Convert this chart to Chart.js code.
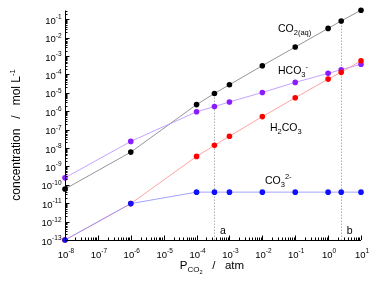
<!DOCTYPE html>
<html>
<head>
<meta charset="utf-8">
<script src="https://cdn.jsdelivr.net/npm/chart.js@4.4.1/dist/chart.umd.min.js"></script>
<style>
  html, body { margin: 0; padding: 0; background: #fff; }
  #wrap { width: 377px; height: 291px; position: relative; }
</style>
</head>
<body>
<div id="wrap"><canvas id="chart"></canvas></div>
<script>
// partial pressure of CO2 (atm)
const pressures = [1e-8, 1e-6, 1e-4, 3.5e-4, 1e-3, 1e-2, 1e-1, 1, 2.5, 10];

// concentrations (mol/L)
const co2aq = [5.9e-11, 6.0e-9, 2.3e-6, 9.3e-6, 2.75e-5, 3.0e-4, 3.1e-3, 3.2e-2, 8.1e-2, 0.31];
const hco3 = [2.4e-10, 2.3e-8, 9.3e-7, 1.8e-6, 3.2e-6, 1.05e-5, 3.7e-5, 1.15e-4, 1.8e-4, 3.6e-4];
const h2co3 = [1e-13, 9.5e-12, 3.5e-9, 1.4e-8, 4.4e-8, 5.1e-7, 5.4e-6, 5.6e-5, 1.3e-4, 5.6e-4];
const co3 = [1e-13, 9.5e-12, 4e-11, 4e-11, 4e-11, 4e-11, 4e-11, 4e-11, 4e-11, 4e-11];

// marked pressures (dotted lines)
const markerNames = ['a', 'b'];
const markerP = [3.5e-4, 2.5];

// tick exponents
const xExps = [-8, -7, -6, -5, -4, -3, -2, -1, 0, 1];
const yExps = [-13, -12, -11, -10, -9, -8, -7, -6, -5, -4, -3, -2, -1];

const FONT = '"Liberation Sans", Arial, sans-serif';

function toPoints(ys) {
  return pressures.map((p, i) => ({ x: p, y: ys[i] }));
}

function series(label, ys, pointColor, lineColor, order) {
  return {
    label: label,
    data: toPoints(ys),
    borderColor: lineColor,
    backgroundColor: pointColor,
    pointBackgroundColor: pointColor,
    pointBorderColor: pointColor,
    pointRadius: 2.8,
    pointBorderWidth: 0,
    borderWidth: 0.8,
    tension: 0,
    clip: false,
    order: order,
  };
}

// draws text pieces one after another, some raised or lowered
function richText(ctx, parts, x, y, align) {
  let w = 0;
  parts.forEach(p => {
    ctx.font = p.size + 'px ' + FONT;
    p.w = ctx.measureText(p.t).width;
    w += p.w;
  });
  let cx = x;
  if (align === 'center') cx = x - w / 2;
  if (align === 'right') cx = x - w;
  ctx.textAlign = 'left';
  ctx.textBaseline = 'alphabetic';
  parts.forEach(p => {
    ctx.font = p.size + 'px ' + FONT;
    ctx.fillText(p.t, cx, y + (p.dy || 0));
    cx += p.w;
  });
}

const markerLines = {
  id: 'markerLines',
  beforeDatasetsDraw(chart) {
    const ctx = chart.ctx;
    const xs = chart.scales.x;
    const ys = chart.scales.y;
    ctx.save();
    ctx.strokeStyle = '#9a9a9a';
    ctx.lineWidth = 0.8;
    ctx.setLineDash([1.5, 1.5]);
    markerP.forEach(p => {
      const i = pressures.indexOf(p);
      const px = Math.round(xs.getPixelForValue(p)) + 0.5;
      ctx.beginPath();
      ctx.moveTo(px, chart.chartArea.bottom);
      ctx.lineTo(px, ys.getPixelForValue(co2aq[i]));
      ctx.stroke();
    });
    ctx.restore();
  },
};

const axisDecor = {
  id: 'axisDecor',
  afterDraw(chart) {
    const ctx = chart.ctx;
    const xs = chart.scales.x;
    const ys = chart.scales.y;
    const area = chart.chartArea;
    ctx.save();
    ctx.strokeStyle = '#000';
    ctx.fillStyle = '#000';
    ctx.lineWidth = 1;

    // axis lines
    ctx.beginPath();
    ctx.moveTo(area.left + 0.5, area.top);
    ctx.lineTo(area.left + 0.5, area.bottom + 0.5);
    ctx.lineTo(area.right, area.bottom + 0.5);
    ctx.stroke();

    // x ticks (inward)
    ctx.beginPath();
    for (let e = -8; e <= 1; e++) {
      for (let k = 1; k <= 9; k++) {
        const v = k * Math.pow(10, e);
        if (v > xs.max * 1.0001) break;
        const px = Math.round(xs.getPixelForValue(v)) + 0.5;
        const len = k === 1 ? 4.5 : 2.5;
        ctx.moveTo(px, area.bottom);
        ctx.lineTo(px, area.bottom - len);
      }
    }
    // y ticks (inward)
    for (let e = -13; e <= 0; e++) {
      for (let k = 1; k <= 9; k++) {
        const v = k * Math.pow(10, e);
        if (v > ys.max * 1.0001) break;
        const py = Math.round(ys.getPixelForValue(v)) + 0.5;
        const len = k === 1 ? 4.5 : 2.5;
        ctx.moveTo(area.left, py);
        ctx.lineTo(area.left + len, py);
      }
    }
    ctx.stroke();

    // tick labels
    xExps.forEach(e => {
      const px = xs.getPixelForValue(Math.pow(10, e));
      richText(ctx, [{ t: '10', size: 9.5 }, { t: String(e), size: 6.5, dy: -4.5 }], px + 1, area.bottom + 17.5, 'center');
    });
    yExps.forEach(e => {
      const py = ys.getPixelForValue(Math.pow(10, e));
      richText(ctx, [{ t: '10', size: 9.5 }, { t: String(e), size: 6.5, dy: -4.5 }], area.left - 3.5, py + 4.5, 'right');
    });

    // axis titles
    richText(ctx, [
      { t: 'P', size: 11.5 },
      { t: 'CO', size: 8, dy: 3 },
      { t: '2', size: 5.5, dy: 5 },
      { t: '   /   atm', size: 11.5 },
    ], 212, 269, 'center');

    ctx.save();
    ctx.translate(20, 135);
    ctx.rotate(-Math.PI / 2);
    richText(ctx, [
      { t: 'concentration   /   mol L', size: 12 },
      { t: '-1', size: 7.5, dy: -5 },
    ], 0, 0, 'center');
    ctx.restore();

    // series labels
    richText(ctx, [{ t: 'CO', size: 10.5 }, { t: '2(aq)', size: 7.5, dy: 3 }], 278, 32, 'left');
    richText(ctx, [{ t: 'HCO', size: 10.5 }, { t: '3', size: 7.5, dy: 3 }, { t: '-', size: 7.5, dy: -5 }], 278, 74, 'left');
    richText(ctx, [{ t: 'H', size: 10.5 }, { t: '2', size: 7.5, dy: 3 }, { t: 'CO', size: 10.5 }, { t: '3', size: 7.5, dy: 3 }], 270, 131, 'left');
    richText(ctx, [{ t: 'CO', size: 10.5 }, { t: '3', size: 7.5, dy: 3 }, { t: '2-', size: 7.5, dy: -5 }], 265, 184, 'left');

    // marker letters
    markerP.forEach((p, i) => {
      const px = xs.getPixelForValue(p);
      richText(ctx, [{ t: markerNames[i], size: 10.5 }], px + 8.5, area.bottom - 6, 'center');
    });
    ctx.restore();
  },
};

new Chart(document.getElementById('chart'), {
  type: 'line',
  data: {
    datasets: [
      series('CO2(aq)', co2aq, '#000000', '#7a7a7a', 4),
      series('HCO3-', hco3, '#8a1cff', '#b58cff', 3),
      series('H2CO3', h2co3, '#ff0000', '#ff8a8a', 2),
      series('CO3 2-', co3, '#1010ff', '#8a8aff', 1),
    ],
  },
  options: {
    responsive: true,
    maintainAspectRatio: false,
    animation: false,
    layout: { padding: { left: 65, right: 16, top: 10.5, bottom: 51 } },
    plugins: { legend: { display: false }, tooltip: { enabled: false } },
    scales: {
      x: { type: 'logarithmic', min: 1e-8, max: 10, display: false },
      y: { type: 'logarithmic', min: 1e-13, max: 0.3, display: false },
    },
  },
  plugins: [markerLines, axisDecor],
});
</script>
</body>
</html>
